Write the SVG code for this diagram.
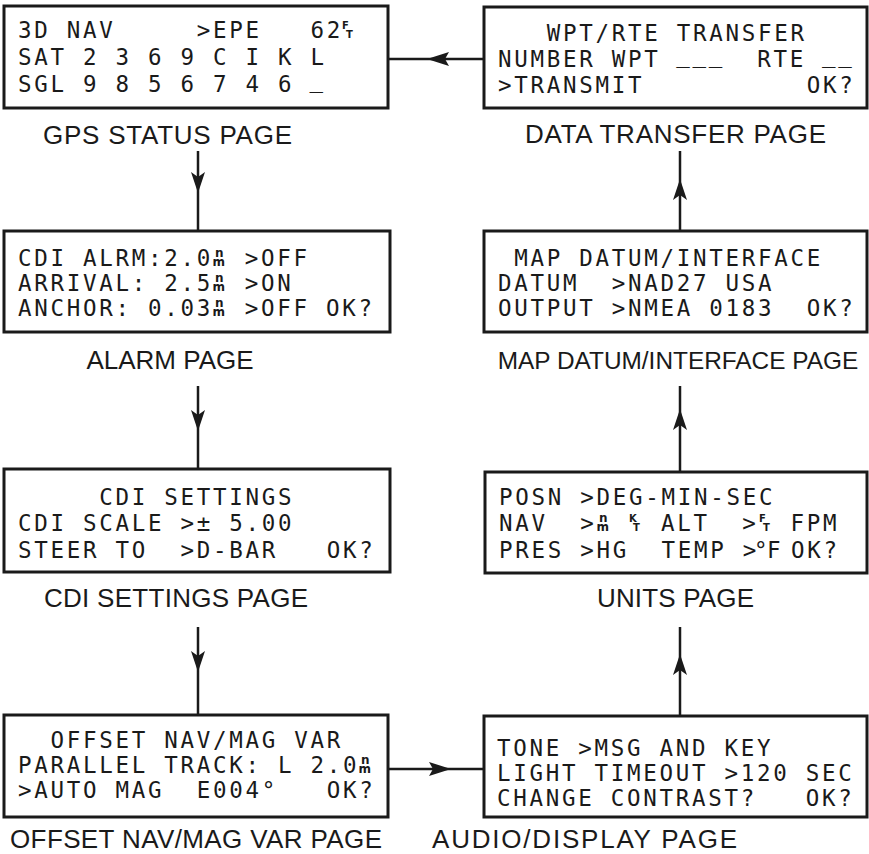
<svg xmlns="http://www.w3.org/2000/svg" width="869" height="854" viewBox="0 0 869 854" xml:space="preserve">
<style>
.box{fill:#fff;stroke:#1a1a1a;stroke-width:3}
.lcd{font-family:"DejaVu Sans Mono",monospace;font-size:22.5px;letter-spacing:2.7px;fill:#1a1a1a;white-space:pre}
.u{font-family:"DejaVu Sans",sans-serif;font-size:12px;font-weight:bold;fill:#1a1a1a}
.uf{font-family:"DejaVu Sans",sans-serif;font-size:10px;font-weight:bold;fill:#1a1a1a}
.lbl{font-family:"Liberation Sans",Arial,sans-serif;font-size:26px;fill:#1a1a1a}
.ln{stroke:#1a1a1a;stroke-width:2.5;fill:none}
.ah{fill:#1a1a1a}
</style>
<rect width="869" height="854" fill="#fff"/>

<g id="connectors">
  <line class="ln" x1="484" y1="59" x2="388" y2="59"/>
  <polygon class="ah" points="427,59 449,52 445,59 449,66"/>
  <line class="ln" x1="198" y1="151" x2="198" y2="231"/>
  <polygon class="ah" points="198,193 191,172 198,177 205,172"/>
  <line class="ln" x1="198" y1="386" x2="198" y2="469"/>
  <polygon class="ah" points="198,431 191,410 198,415 205,410"/>
  <line class="ln" x1="198" y1="627" x2="198" y2="715"/>
  <polygon class="ah" points="198,672 191,651 198,656 205,651"/>
  <line class="ln" x1="388" y1="769" x2="484" y2="769"/>
  <polygon class="ah" points="451,769 429,762 433,769 429,776"/>
  <line class="ln" x1="680" y1="716" x2="680" y2="627"/>
  <polygon class="ah" points="680,654 673,675 680,670 687,675"/>
  <line class="ln" x1="680" y1="472" x2="680" y2="386"/>
  <polygon class="ah" points="680,409 673,430 680,425 687,430"/>
  <line class="ln" x1="680" y1="231" x2="680" y2="151"/>
  <polygon class="ah" points="680,179 673,200 680,195 687,200"/>
</g>

<g id="gps-status">
  <rect class="box" x="4" y="6" width="384" height="102"/>
  <text class="lcd" x="18" y="38">3D NAV     &gt;EPE   62</text>
  <text class="uf"><tspan x="342" y="29">F</tspan><tspan x="346" y="38">T</tspan></text>
  <text class="lcd" x="18" y="65">SAT 2 3 6 9 C I K L</text>
  <text class="lcd" x="18" y="92">SGL 9 8 5 6 7 4 6</text>
  <text class="lcd" x="309.6" y="87">_</text>
  <text class="lbl" x="43" y="144" textLength="249" lengthAdjust="spacing">GPS STATUS PAGE</text>
</g>

<g id="data-transfer">
  <rect class="box" x="484" y="7" width="383" height="101"/>
  <text class="lcd" x="498" y="41">   WPT/RTE TRANSFER</text>
  <text class="lcd" x="498" y="67">NUMBER WPT</text>
  <text class="lcd" x="676.2" y="62">___</text>
  <text class="lcd" x="757.2" y="67">RTE</text>
  <text class="lcd" x="822" y="62">__</text>
  <text class="lcd" x="498" y="93">&gt;TRANSMIT          OK?</text>
  <text class="lbl" x="525" y="143" textLength="301" lengthAdjust="spacing">DATA TRANSFER PAGE</text>
</g>

<g id="alarm">
  <rect class="box" x="4" y="231" width="386" height="101"/>
  <text class="lcd" x="18" y="266">CDI ALRM:2.0</text>
  <text class="u"><tspan x="215" y="257">n</tspan><tspan x="212.5" y="266">m</tspan></text>
  <text class="lcd" x="244.8" y="266">&gt;OFF</text>
  <text class="lcd" x="18" y="291">ARRIVAL: 2.5</text>
  <text class="u"><tspan x="215" y="282">n</tspan><tspan x="212.5" y="291">m</tspan></text>
  <text class="lcd" x="244.8" y="291">&gt;ON</text>
  <text class="lcd" x="18" y="316">ANCHOR: 0.03</text>
  <text class="u"><tspan x="215" y="307">n</tspan><tspan x="212.5" y="316">m</tspan></text>
  <text class="lcd" x="244.8" y="316">&gt;OFF OK?</text>
  <text class="lbl" x="170" y="369" text-anchor="middle">ALARM PAGE</text>
</g>

<g id="map-datum">
  <rect class="box" x="484" y="231" width="383" height="101"/>
  <text class="lcd" x="498" y="266"> MAP DATUM/INTERFACE</text>
  <text class="lcd" x="498" y="291">DATUM  &gt;NAD27 USA</text>
  <text class="lcd" x="498" y="316">OUTPUT &gt;NMEA 0183  OK?</text>
  <text class="lbl" x="678" y="369" text-anchor="middle" style="font-size:24.4px">MAP DATUM/INTERFACE PAGE</text>
</g>

<g id="cdi-settings">
  <rect class="box" x="4" y="469" width="386" height="103"/>
  <text class="lcd" x="18" y="505">     CDI SETTINGS</text>
  <text class="lcd" x="18" y="531">CDI SCALE &gt;± 5.00</text>
  <text class="lcd" x="18" y="558">STEER TO  &gt;D-BAR   OK?</text>
  <text class="lbl" x="44" y="607" textLength="264" lengthAdjust="spacing">CDI SETTINGS PAGE</text>
</g>

<g id="units">
  <rect class="box" x="485" y="472" width="382" height="101"/>
  <text class="lcd" x="499" y="505">POSN &gt;DEG-MIN-SEC</text>
  <text class="lcd" x="499" y="531">NAV  &gt;</text>
  <text class="u"><tspan x="599" y="522">n</tspan><tspan x="596.5" y="531">m</tspan></text>
  <text class="uf"><tspan x="629" y="522">K</tspan><tspan x="633" y="531">T</tspan></text>
  <text class="lcd" x="661" y="531">ALT  &gt;</text>
  <text class="uf"><tspan x="759" y="522">F</tspan><tspan x="763" y="531">T</tspan></text>
  <text class="lcd" x="790.6" y="531">FPM</text>
  <text class="lcd" x="499" y="558">PRES &gt;HG  TEMP &gt;</text>
  <text class="lcd" x="754" y="558">°</text>
  <text class="lcd" x="767" y="558">F</text>
  <text class="lcd" x="791" y="558">OK?</text>
  <text class="lbl" x="597" y="607" textLength="157" lengthAdjust="spacing">UNITS PAGE</text>
</g>

<g id="offset-nav">
  <rect class="box" x="4" y="715" width="384" height="102"/>
  <text class="lcd" x="18" y="748">  OFFSET NAV/MAG VAR</text>
  <text class="lcd" x="18" y="773">PARALLEL TRACK: L 2.0</text>
  <text class="u"><tspan x="361" y="764">n</tspan><tspan x="358.5" y="773">m</tspan></text>
  <text class="lcd" x="18" y="798">&gt;AUTO MAG  E004°   OK?</text>
  <text class="lbl" x="10" y="848" textLength="372" lengthAdjust="spacing">OFFSET NAV/MAG VAR PAGE</text>
</g>

<g id="audio-display">
  <rect class="box" x="484" y="716" width="383" height="101"/>
  <text class="lcd" x="497" y="756">TONE &gt;MSG AND KEY</text>
  <text class="lcd" x="497" y="781">LIGHT TIMEOUT &gt;120 SEC</text>
  <text class="lcd" x="497" y="806">CHANGE CONTRAST?   OK?</text>
  <text class="lbl" x="432" y="848" textLength="305" lengthAdjust="spacing">AUDIO/DISPLAY PAGE</text>
</g>
</svg>
